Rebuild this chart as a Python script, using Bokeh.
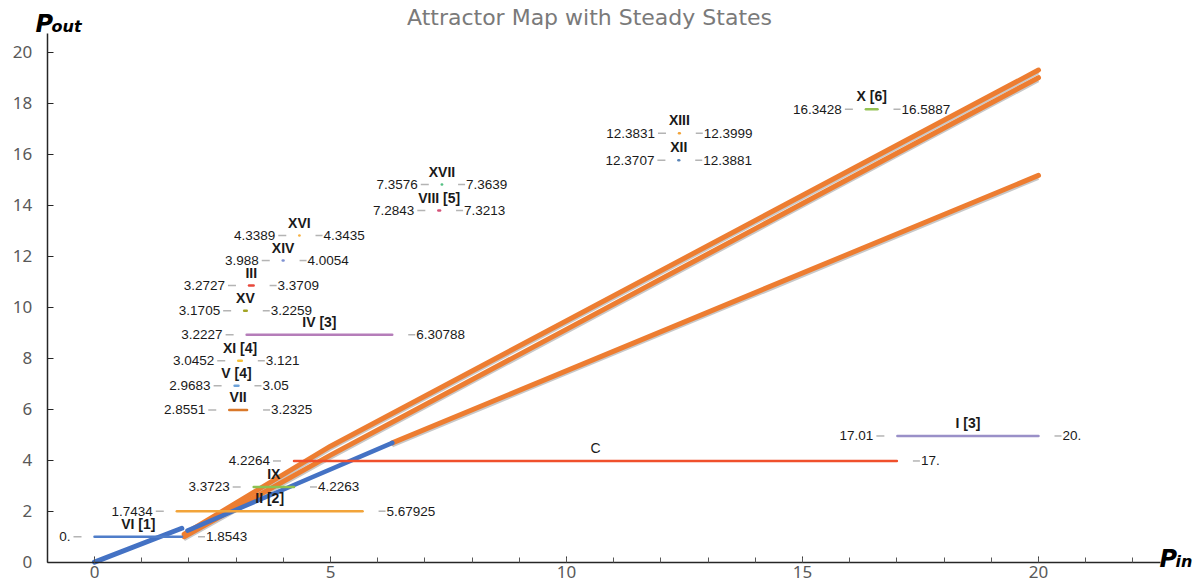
from bokeh.plotting import figure
from bokeh.models import ColumnDataSource, Label, SingleIntervalTicker, Range1d, LinearAxis
from bokeh.core.properties import value
from bokeh.embed import file_html
from bokeh.resources import INLINE

# ---- steady states: label, interval ends (as printed), output level, colour ----
names = ["VI [1]", "II [2]", "IX", "C", "I [3]", "VII", "V [4]", "XI [4]", "IV [3]",
         "XV", "III", "XIV", "XVI", "VIII [5]", "XVII", "XII", "XIII", "X [6]"]
starts = ["0.", "1.7434", "3.3723", "4.2264", "17.01", "2.8551", "2.9683", "3.0452",
          "3.2227", "3.1705", "3.2727", "3.988", "4.3389", "7.2843", "7.3576",
          "12.3707", "12.3831", "16.3428"]
ends = ["1.8543", "5.67925", "4.2263", "17.", "20.", "3.2325", "3.05", "3.121",
        "6.30788", "3.2259", "3.3709", "4.0054", "4.3435", "7.3213", "7.3639",
        "12.3881", "12.3999", "16.5887"]
levels = [1.0, 2.0, 2.95, 3.97, 4.95, 5.97, 6.92, 7.9, 8.92, 9.86, 10.85, 11.83,
          12.81, 13.79, 14.81, 15.76, 16.82, 17.76]
colors = ["#4f7dc9", "#f2a43a", "#8cc152", "#f0502c", "#9a90c8", "#d9782a", "#6ea3da",
          "#f6c23a", "#b57db9", "#a3a526", "#e8483b", "#7f92d2", "#f7b243", "#d45278",
          "#55c184", "#5a84b6", "#f2a43a", "#94c254"]
title_styles = ["bold"] * len(names)
title_styles[names.index("C")] = "normal"

# ---- attractor branches (Pin, Pout) ----
stable_low_x = [0.0, 1.85]
stable_low_y = [0.0, 1.33]
stable_mid_x = [1.97, 6.31]
stable_mid_y = [1.24, 4.68]
upper_a_x = [1.9, 5.0, 20.0]
upper_a_y = [1.1, 4.55, 19.3]
upper_b_x = [1.9, 5.0, 20.0]
upper_b_y = [1.0, 4.2, 19.0]
lower_x = [6.31, 20.0]
lower_y = [4.68, 15.17]

BLUE = "#4472c4"
ORANGE = "#ed7d31"
W, H = 1199, 588
PX_X = 47.2            # pixels per unit of Pin
PX_Y = 25.5            # pixels per unit of Pout
X0_PX, Y0_PX = 94, 561.7   # canvas position of the origin

p = figure(width=W, height=H, output_backend="svg", toolbar_location=None,
           x_range=Range1d(-X0_PX / PX_X, (W - X0_PX) / PX_X),
           y_range=Range1d(-(H - Y0_PX) / PX_Y, Y0_PX / PX_Y),
           x_axis_location=None, y_axis_location=None,
           min_border=0, min_border_left=0, min_border_right=0,
           min_border_top=0, min_border_bottom=0,
           outline_line_color=None, background_fill_color="white")
p.grid.visible = False

xaxis = LinearAxis(fixed_location=0, bounds=(-1, 22.58),
                   ticker=SingleIntervalTicker(interval=5, num_minor_ticks=5))
yaxis = LinearAxis(fixed_location=-1, bounds=(0, 20.73),
                   ticker=SingleIntervalTicker(interval=2, num_minor_ticks=0))
for ax in (xaxis, yaxis):
    ax.axis_line_color = "#262626"
    ax.axis_line_width = 1.5
    ax.major_tick_line_color = "#262626"
    ax.minor_tick_line_color = "#595959"
    ax.major_tick_in = 6
    ax.major_tick_out = 0
    ax.minor_tick_in = 5
    ax.minor_tick_out = 0
    ax.major_label_text_font = "Noto Sans"
    ax.major_label_text_font_size = "17px"
    ax.major_label_text_color = "#595959"
xaxis.major_label_standoff = 4
yaxis.major_label_standoff = 15
p.add_layout(xaxis, "below")
p.add_layout(yaxis, "left")

# shaded edge under the unstable branches
shadow = -3 / PX_Y
for xs, ys in ((upper_a_x, upper_a_y), (upper_b_x, upper_b_y), (lower_x, lower_y)):
    p.line(xs, [v + shadow for v in ys], line_color="#c8c8c8", line_width=3)

p.line(stable_low_x, stable_low_y, line_color=BLUE, line_width=5, line_cap="round")
for xs, ys in ((upper_b_x, upper_b_y), (upper_a_x, upper_a_y), (lower_x, lower_y)):
    p.line(xs, ys, line_color=ORANGE, line_width=5, line_cap="round", line_join="round")
p.line(stable_mid_x, stable_mid_y, line_color=BLUE, line_width=4.5, line_cap="round")

# ---- steady-state intervals ----
x0 = [float(s) for s in starts]
x1 = [float(s) for s in ends]
mid = [(a + b) / 2 for a, b in zip(x0, x1)]
src = ColumnDataSource(dict(x0=x0, x1=x1, y=levels, mid=mid, color=colors,
                            left=starts, right=ends, name=names, style=title_styles,
                            ls0=[a - 21 / PX_X for a in x0], ls1=[a - 13 / PX_X for a in x0],
                            rs0=[b + 16 / PX_X for b in x1], rs1=[b + 23 / PX_X for b in x1]))

p.segment("ls0", "y", "ls1", "y", source=src, line_color="#b4b4b4", line_width=1.5)
p.segment("rs0", "y", "rs1", "y", source=src, line_color="#b4b4b4", line_width=1.5)
p.segment("x0", "y", "x1", "y", source=src, line_color="color", line_width=2.5,
          line_cap="round")

p.text("x0", "y", text="left", source=src, x_offset=-24, text_align="right",
       text_baseline="middle", text_font=value("Liberation Sans"),
       text_font_size="13.5px", text_color="#1a1a1a")
p.text("x1", "y", text="right", source=src, x_offset=24, text_align="left",
       text_baseline="middle", text_font=value("Liberation Sans"),
       text_font_size="13.5px", text_color="#1a1a1a")
p.text("mid", "y", text="name", source=src, y_offset=-13, text_align="center",
       text_baseline="alphabetic", text_font=value("Liberation Sans"),
       text_font_size="14px", text_font_style="style", text_color="#1a1a1a")

# ---- title and axis names ----
p.add_layout(Label(x=(589 - X0_PX) / PX_X, y=(Y0_PX - 17) / PX_Y,
                   text="Attractor Map with Steady States",
                   text_align="center", text_baseline="middle",
                   text_font="DejaVu Sans", text_font_size="22px", text_color="#7a7a7a"))


def axis_name(x_px, base_px, main, sub):
    x = (x_px - X0_PX) / PX_X
    y = (Y0_PX - base_px) / PX_Y
    p.add_layout(Label(x=x, y=y, text=main, text_font="DejaVu Sans",
                       text_font_style="bold italic", text_font_size="24px",
                       text_color="black", text_baseline="alphabetic"))
    p.add_layout(Label(x=x + 16 / PX_X, y=y - 3 / PX_Y, text=sub, text_font="DejaVu Sans",
                       text_font_style="bold italic", text_font_size="16px",
                       text_color="black", text_baseline="alphabetic"))


axis_name(35, 23, "P", "out")
axis_name(1159, 558, "P", "in")

open("out.html", "w").write(file_html(p, INLINE))
